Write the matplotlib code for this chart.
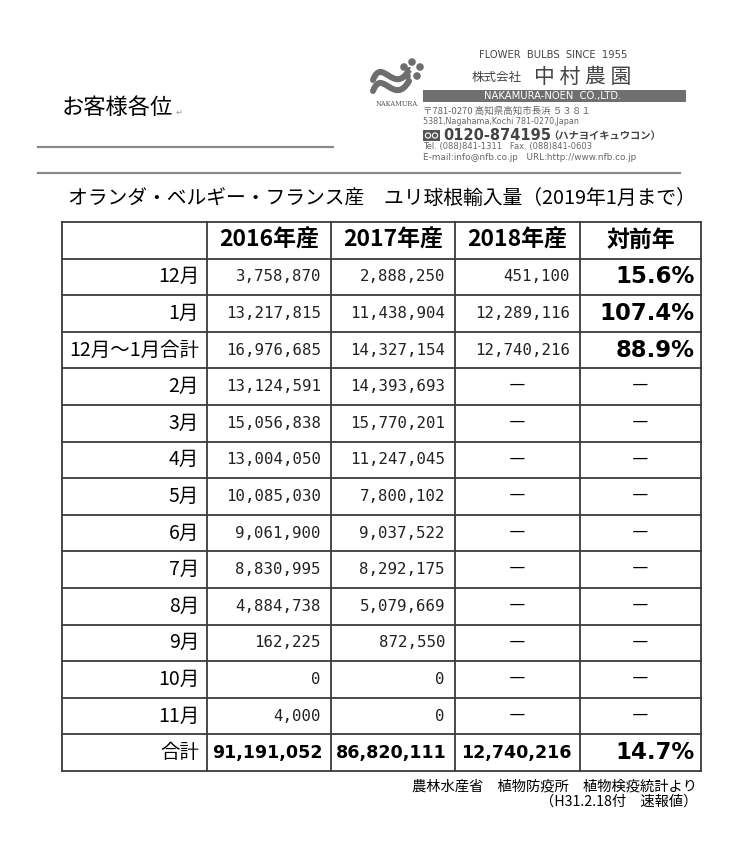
#!/usr/bin/env python3
import matplotlib

matplotlib.use("Agg")
import matplotlib.pyplot as plt
from matplotlib.patches import Rectangle, Circle, PathPatch
from matplotlib.path import Path

# table data
row_labels = ["12月", "1月", "12月～1月合計", "2月", "3月", "4月", "5月",
              "6月", "7月", "8月", "9月", "10月", "11月", "合計"]
col_headers = ["2016年産", "2017年産", "2018年産", "対前年"]
imports_2016 = [3758870, 13217815, 16976685, 13124591, 15056838, 13004050, 10085030,
                9061900, 8830995, 4884738, 162225, 0, 4000, 91191052]
imports_2017 = [2888250, 11438904, 14327154, 14393693, 15770201, 11247045, 7800102,
                9037522, 8292175, 5079669, 872550, 0, 0, 86820111]
imports_2018 = [451100, 12289116, 12740216, None, None, None, None,
                None, None, None, None, None, None, 12740216]
yoy_pct = [15.6, 107.4, 88.9, None, None, None, None,
           None, None, None, None, None, None, 14.7]

title = "オランダ・ベルギー・フランス産　ユリ球根輸入量（2019年1月まで）"
source_lines = ["農林水産省　植物防疫所　植物検疫統計より", "（H31.2.18付　速報値）"]

W, H = 749, 864
CJK = ["Noto Sans CJK JP", "DejaVu Sans"]
plt.rcParams["font.family"] = CJK


def pt(px):
    return px * 0.72


def draw_letterhead(ax):
    ax.text(62, 108, "お客様各位", fontsize=16, va="center", ha="left")
    ax.text(176, 112, "↵", fontsize=6, color="#999999", va="center", ha="left",
            family=["DejaVu Sans"])
    ax.plot([38, 333], [147, 147], color="#8a8a8a", lw=pt(2.2))
    ax.plot([38, 680], [173, 173], color="#8a8a8a", lw=pt(2.2))

    # logo: two wavy strokes + small flower
    grey = "#6e6e6e"
    for dy in (0, 11):
        verts = [(373, 80 + dy), (382, 56 + dy), (394, 96 + dy), (409, 70 + dy)]
        path = Path(verts, [Path.MOVETO, Path.CURVE4, Path.CURVE4, Path.CURVE4])
        ax.add_patch(PathPatch(path, fill=False, lw=pt(6), color=grey, capstyle="round"))
    for cx, cy in [(412, 62), (420, 67), (417, 76), (407, 76), (404, 67)]:
        ax.add_patch(Circle((cx, cy), 3.8, color=grey, lw=0))
    ax.add_patch(Circle((412, 69.5), 1.8, color="white", lw=0))
    ax.text(397, 104, "NAKAMURA", fontsize=4.8, color="#555555", ha="center", va="center",
            family=["DejaVu Serif"])

    ax.text(553, 55, "FLOWER  BULBS  SINCE  1955", fontsize=7.2, color="#444444",
            ha="center", va="center", family=["DejaVu Sans"])
    ax.text(472, 78, "株式会社", fontsize=9, color="#444444", ha="left", va="center")
    ax.text(583, 77, "中 村 農 園", fontsize=15, color="#444444", ha="center", va="center")
    ax.add_patch(Rectangle((423, 90), 263, 12, color="#6f6f6f", lw=0))
    ax.text(553, 96, "NAKAMURA-NOEN  CO.,LTD.", fontsize=7.2, color="white",
            ha="center", va="center", family=["DejaVu Sans"])
    ax.text(423, 111, "〒781-0270 高知県高知市長浜 ５３８１", fontsize=6.8, color="#666666",
            ha="left", va="center")
    ax.text(423, 121, "5381,Nagahama,Kochi 781-0270,Japan", fontsize=5.8, color="#666666",
            ha="left", va="center", family=["DejaVu Sans"])
    # free dial mark
    ax.add_patch(Rectangle((423, 130), 17, 11, color="#555555", lw=0))
    for cx in (428, 435):
        ax.add_patch(Circle((cx, 135.5), 2.6, fill=False, color="white", lw=0.8))
    ax.text(443, 136, "0120-874195", fontsize=10.5, color="#444444", weight="bold",
            ha="left", va="center", family=["DejaVu Sans"])
    ax.text(548, 136, "（ハナヨイキュウコン）", fontsize=7.4, color="#444444", weight="bold",
            ha="left", va="center")
    ax.text(423, 147, "Tel. (088)841-1311   Fax. (088)841-0603", fontsize=6.0,
            color="#666666", ha="left", va="center", family=["DejaVu Sans"])
    ax.text(423, 157, "E-mail:info@nfb.co.jp   URL:http://www.nfb.co.jp", fontsize=6.4,
            color="#666666", ha="left", va="center", family=["DejaVu Sans"])


def fmt_int(v):
    return f"{v:,}"


def draw_table(ax):
    col_x = [62, 207, 331, 455, 580, 701]
    top = 222
    row_h = 36.6
    n_rows = len(row_labels) + 1
    bottom = top + n_rows * row_h
    line_c = "#3a3a3a"
    lw = pt(1.8)

    for i in range(n_rows + 1):
        y = top + i * row_h
        ax.plot([col_x[0], col_x[-1]], [y, y], color=line_c, lw=lw, solid_capstyle="projecting")
    for x in col_x:
        ax.plot([x, x], [top, bottom], color=line_c, lw=lw, solid_capstyle="projecting")

    # header row
    yc = top + row_h / 2
    for j, label in enumerate(col_headers):
        xc = (col_x[j + 1] + col_x[j + 2]) / 2
        ax.text(xc, yc, label, fontsize=16.5, weight="bold", ha="center", va="center")

    last = len(row_labels) - 1
    for i, label in enumerate(row_labels):
        yc = top + (i + 1) * row_h + row_h / 2
        ax.text(col_x[1] - 8, yc, label, fontsize=14, ha="right", va="center")
        series = [imports_2016[i], imports_2017[i], imports_2018[i]]
        for j, val in enumerate(series):
            if val is None:
                xc = (col_x[j + 1] + col_x[j + 2]) / 2
                ax.text(xc, yc, "―", fontsize=12, ha="center", va="center")
            elif i == last:
                ax.text(col_x[j + 2] - 8, yc, fmt_int(val), fontsize=12.6, weight="bold",
                        ha="right", va="center", family=["DejaVu Sans"])
            else:
                ax.text(col_x[j + 2] - 10, yc, fmt_int(val), fontsize=11.3, color="#222222",
                        ha="right", va="center", family=["DejaVu Sans Mono"])
        p = yoy_pct[i]
        if p is None:
            ax.text((col_x[4] + col_x[5]) / 2, yc, "―", fontsize=12, ha="center", va="center")
        else:
            ax.text(col_x[5] - 6, yc, f"{p:.1f}%", fontsize=16.4, weight="bold",
                    ha="right", va="center", family=["DejaVu Sans"])
    return bottom


def main():
    fig = plt.figure(figsize=(W / 100, H / 100), dpi=100)
    ax = fig.add_axes([0, 0, 1, 1])
    ax.set_xlim(0, W)
    ax.set_ylim(H, 0)
    ax.axis("off")

    draw_letterhead(ax)
    ax.text(68, 199, title, fontsize=14.25, ha="left", va="center")
    draw_table(ax)
    ax.text(697, 787, source_lines[0], fontsize=10.3, ha="right", va="center")
    ax.text(697, 802, source_lines[1], fontsize=10.3, ha="right", va="center")

    fig.savefig("out.png", dpi=100)


if __name__ == "__main__":
    main()
